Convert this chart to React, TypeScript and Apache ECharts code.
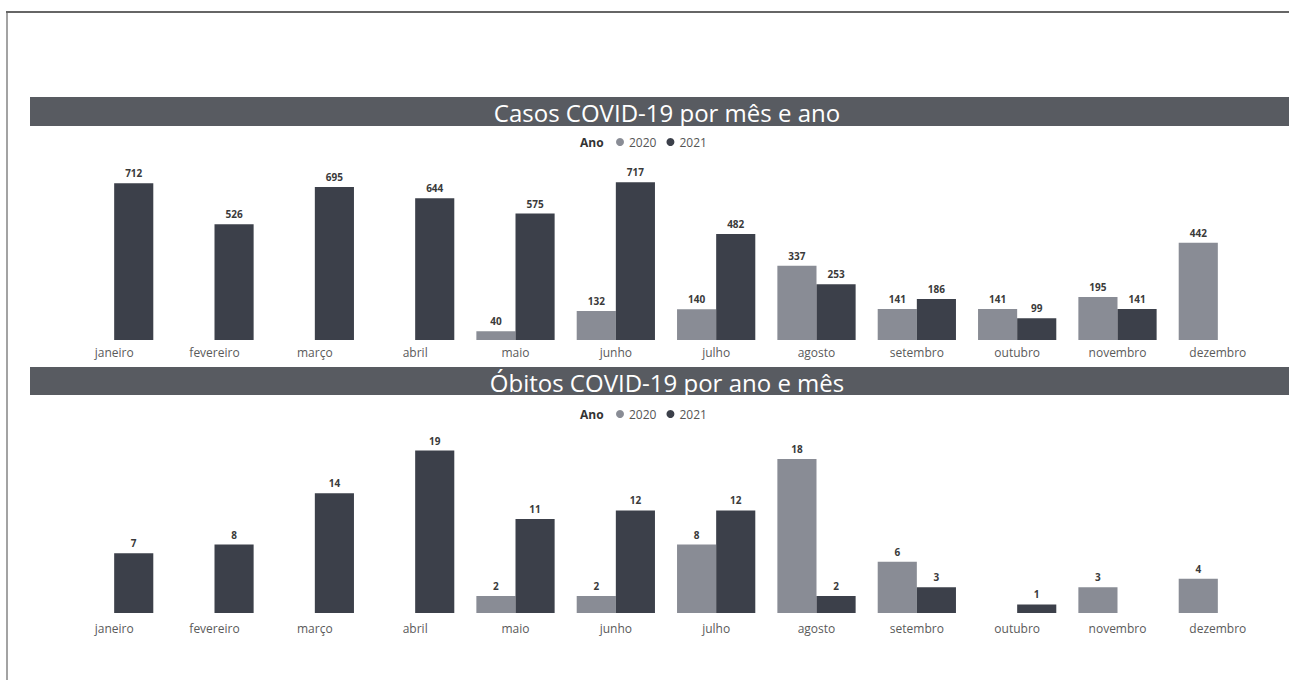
import React, { useEffect, useRef } from "react";
import * as echarts from "echarts";

const months = ["janeiro", "fevereiro", "março", "abril", "maio", "junho", "julho", "agosto", "setembro", "outubro", "novembro", "dezembro"];
const years = ["2020", "2021"];
const casos2020 = [null, null, null, null, 40, 132, 140, 337, 141, 141, 195, 442];
const casos2021 = [712, 526, 695, 644, 575, 717, 482, 253, 186, 99, 141, null];
const obitos2020 = [null, null, null, null, 2, 2, 8, 18, 6, null, 3, 4];
const obitos2021 = [7, 8, 14, 19, 11, 12, 12, 2, 3, 1, null, null];
const titleCasos = "Casos COVID-19 por mês e ano";
const titleObitos = "Óbitos COVID-19 por ano e mês";

const C2020 = "#898c95";
const C2021 = "#3c404a";
const BANNER = "#585b61";
const FONT = "'Open Sans', 'Noto Sans', sans-serif";

export default function App() {
  const ref = useRef<HTMLDivElement>(null);
  useEffect(() => {
    const chart = echarts.init(ref.current!, null, { renderer: "svg" });
    const label = {
      show: true,
      position: "top",
      distance: 5,
      fontSize: 10,
      fontWeight: "bold",
      color: "#3a3a3a",
      fontFamily: FONT,
    };
    const axisLabel = (margin: number) => ({
      color: "#5a5a5a",
      fontSize: 12,
      fontFamily: FONT,
      margin,
      interval: 0,
    });
    const mkBar = (name: string, data: any[], color: string, idx: number) => ({
      name,
      type: "bar",
      xAxisIndex: idx,
      yAxisIndex: idx,
      data,
      barGap: "0%",
      barCategoryGap: "22%",
      itemStyle: { color },
      label,
    });
    const legend = (top: number) => ({
      data: years,
      left: 616,
      top,
      icon: "circle",
      itemWidth: 8,
      itemHeight: 8,
      itemGap: 10,
      padding: 0,
      textStyle: { fontSize: 12, color: "#555", fontFamily: FONT },
    });
    chart.setOption({
      animation: false,
      backgroundColor: "#ffffff",
      textStyle: { fontFamily: FONT },
      legend: [legend(136), legend(408)],
      grid: [
        { left: 64, width: 1204, top: 164, height: 176 },
        { left: 64, width: 1204, top: 442, height: 171 },
      ],
      xAxis: [
        { type: "category", gridIndex: 0, data: months, axisLine: { show: false }, axisTick: { show: false }, axisLabel: axisLabel(6) },
        { type: "category", gridIndex: 1, data: months, axisLine: { show: false }, axisTick: { show: false }, axisLabel: axisLabel(9) },
      ],
      yAxis: [
        { type: "value", gridIndex: 0, min: 0, max: 800, show: false, splitLine: { show: false } },
        { type: "value", gridIndex: 1, min: 0, max: 20, show: false, splitLine: { show: false } },
      ],
      series: [
        mkBar("2020", casos2020, C2020, 0),
        mkBar("2021", casos2021, C2021, 0),
        mkBar("2020", obitos2020, C2020, 1),
        mkBar("2021", obitos2021, C2021, 1),
      ],
      graphic: [
        { type: "line", shape: { x1: 6, y1: 12, x2: 1289, y2: 12 }, style: { stroke: "#333", lineWidth: 1.5 } },
        { type: "line", shape: { x1: 7, y1: 12, x2: 7, y2: 680 }, style: { stroke: "#666", lineWidth: 1.2 } },
        { type: "rect", shape: { x: 30, y: 97, width: 1259, height: 29 }, style: { fill: BANNER } },
        { type: "rect", shape: { x: 30, y: 367, width: 1259, height: 28 }, style: { fill: BANNER } },
        {
          type: "text",
          x: 667,
          y: 112,
          style: { text: titleCasos, fill: "#ffffff", fontSize: 24, fontFamily: FONT, align: "center", verticalAlign: "middle" },
        },
        {
          type: "text",
          x: 667,
          y: 382,
          style: { text: titleObitos, fill: "#ffffff", fontSize: 24, fontFamily: FONT, align: "center", verticalAlign: "middle" },
        },
        {
          type: "text",
          x: 580,
          y: 142,
          style: { text: "Ano", fill: "#333", fontSize: 12, fontWeight: "bold", fontFamily: FONT, verticalAlign: "middle" },
        },
        {
          type: "text",
          x: 580,
          y: 414,
          style: { text: "Ano", fill: "#333", fontSize: 12, fontWeight: "bold", fontFamily: FONT, verticalAlign: "middle" },
        },
      ],
    });
    return () => chart.dispose();
  }, []);
  return (
    <div
      ref={ref}
      style={{ position: "fixed", left: 0, top: 0, width: 1289, height: 680 }}
    />
  );
}
